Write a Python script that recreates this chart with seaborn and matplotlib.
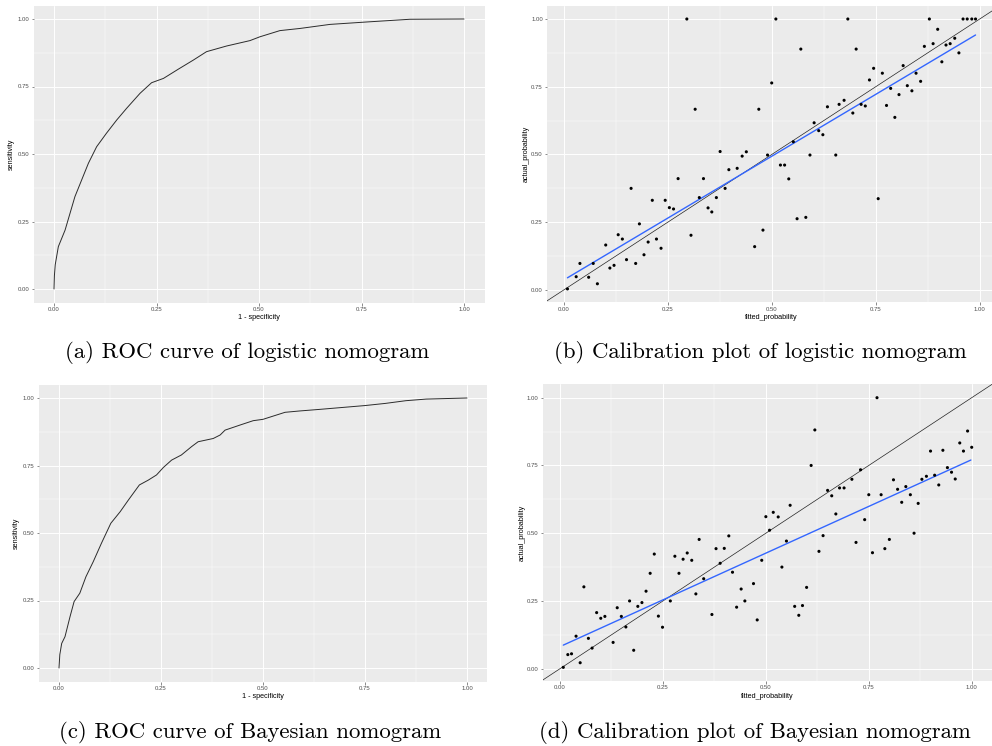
import numpy as np
import pandas as pd
import matplotlib
matplotlib.use("Agg")
import matplotlib.pyplot as plt
from matplotlib.ticker import MultipleLocator, FormatStrFormatter
import seaborn as sns

# ---------------- data ----------------
roc_log_fpr = [0, 0.001, 0.003, 0.0106, 0.027, 0.039, 0.051, 0.0675, 0.084, 0.104, 0.128, 0.153,
               0.177, 0.21, 0.238, 0.267, 0.303, 0.34, 0.372, 0.421, 0.478, 0.502, 0.551, 0.6,
               0.673, 0.763, 0.868, 1.0]
roc_log_tpr = [0, 0.05, 0.09, 0.157, 0.218, 0.28, 0.342, 0.404, 0.466, 0.527, 0.577, 0.626,
               0.669, 0.725, 0.764, 0.78, 0.814, 0.848, 0.879, 0.9, 0.92, 0.934, 0.957, 0.965,
               0.98, 0.989, 0.999, 1.0]

roc_bay_fpr = [0, 0.002, 0.0066, 0.0147, 0.027, 0.037, 0.051, 0.066, 0.084, 0.104, 0.127, 0.15,
               0.17, 0.197, 0.219, 0.239, 0.256, 0.276, 0.3, 0.325, 0.341, 0.378, 0.395, 0.407,
               0.444, 0.476, 0.5, 0.554, 0.59, 0.64, 0.75, 0.8, 0.85, 0.9, 1.0]
roc_bay_tpr = [0, 0.05, 0.091, 0.116, 0.19, 0.246, 0.277, 0.338, 0.394, 0.462, 0.536, 0.579,
               0.622, 0.678, 0.696, 0.715, 0.743, 0.77, 0.789, 0.82, 0.838, 0.85, 0.863, 0.881,
               0.9, 0.916, 0.921, 0.947, 0.952, 0.958, 0.972, 0.98, 0.99, 0.996, 1.0]

cal_log_fitted = [0.009, 0.030, 0.039, 0.060, 0.071, 0.081, 0.101, 0.111, 0.121, 0.131, 0.141,
                  0.151, 0.162, 0.173, 0.182, 0.193, 0.203, 0.213, 0.223, 0.234, 0.244, 0.254,
                  0.264, 0.275, 0.296, 0.306, 0.316, 0.326, 0.336, 0.347, 0.356, 0.367, 0.376,
                  0.388, 0.397, 0.417, 0.429, 0.439, 0.459, 0.469, 0.479, 0.490, 0.500, 0.510,
                  0.521, 0.531, 0.541, 0.552, 0.561, 0.570, 0.582, 0.592, 0.602, 0.613, 0.623,
                  0.634, 0.654, 0.662, 0.674, 0.683, 0.695, 0.703, 0.715, 0.725, 0.735, 0.745,
                  0.756, 0.766, 0.776, 0.786, 0.796, 0.806, 0.816, 0.826, 0.837, 0.847, 0.858,
                  0.867, 0.879, 0.888, 0.899, 0.909, 0.919, 0.929, 0.940, 0.950, 0.960, 0.970,
                  0.981, 0.990]
cal_log_actual = [0.004, 0.049, 0.098, 0.047, 0.098, 0.023, 0.166, 0.081, 0.091, 0.204, 0.188,
                  0.112, 0.375, 0.098, 0.244, 0.130, 0.177, 0.331, 0.188, 0.154, 0.331, 0.304,
                  0.299, 0.411, 1.000, 0.202, 0.667, 0.341, 0.411, 0.303, 0.288, 0.341, 0.511,
                  0.375, 0.444, 0.449, 0.494, 0.510, 0.160, 0.667, 0.221, 0.498, 0.764, 1.000,
                  0.461, 0.461, 0.410, 0.547, 0.263, 0.889, 0.268, 0.498, 0.617, 0.588, 0.573,
                  0.676, 0.498, 0.685, 0.700, 1.000, 0.653, 0.889, 0.685, 0.679, 0.775, 0.818,
                  0.337, 0.800, 0.681, 0.744, 0.637, 0.721, 0.828, 0.754, 0.735, 0.800, 0.770,
                  0.899, 1.000, 0.909, 0.962, 0.842, 0.904, 0.909, 0.929, 0.875, 1.000, 1.000,
                  1.000, 1.000]
# fitted smooth (lm) line of panel b
smooth_log_x = [0.009, 0.990]
smooth_log_y = [0.045, 0.941]

cal_bay_fitted = [0.008, 0.019, 0.028, 0.039, 0.049, 0.058, 0.069, 0.078, 0.089, 0.099, 0.109,
                  0.129, 0.139, 0.149, 0.160, 0.169, 0.179, 0.189, 0.199, 0.209, 0.219, 0.229,
                  0.239, 0.249, 0.268, 0.279, 0.289, 0.299, 0.309, 0.320, 0.330, 0.338, 0.349,
                  0.369, 0.379, 0.389, 0.399, 0.410, 0.419, 0.429, 0.440, 0.449, 0.470, 0.479,
                  0.490, 0.500, 0.509, 0.518, 0.530, 0.539, 0.550, 0.559, 0.570, 0.580, 0.589,
                  0.599, 0.610, 0.619, 0.629, 0.639, 0.650, 0.660, 0.670, 0.679, 0.690, 0.709,
                  0.719, 0.730, 0.740, 0.750, 0.759, 0.770, 0.780, 0.789, 0.800, 0.810, 0.820,
                  0.830, 0.840, 0.851, 0.860, 0.870, 0.879, 0.890, 0.900, 0.910, 0.920, 0.930,
                  0.941, 0.951, 0.960, 0.971, 0.980, 0.990, 1.000]
cal_bay_actual = [0.005, 0.052, 0.055, 0.120, 0.022, 0.302, 0.112, 0.076, 0.207, 0.186, 0.193,
                  0.097, 0.225, 0.193, 0.154, 0.250, 0.068, 0.230, 0.244, 0.286, 0.352, 0.423,
                  0.194, 0.153, 0.250, 0.415, 0.352, 0.404, 0.427, 0.400, 0.276, 0.477, 0.332,
                  0.200, 0.443, 0.389, 0.444, 0.490, 0.356, 0.227, 0.294, 0.250, 0.314, 0.180,
                  0.400, 0.561, 0.511, 0.577, 0.560, 0.375, 0.471, 0.603, 0.230, 0.197, 0.233,
                  0.300, 0.750, 0.881, 0.433, 0.491, 0.658, 0.638, 0.571, 0.667, 0.667, 0.699,
                  0.466, 0.734, 0.550, 0.642, 0.428, 1.000, 0.642, 0.443, 0.477, 0.697, 0.662,
                  0.614, 0.672, 0.642, 0.500, 0.610, 0.699, 0.710, 0.803, 0.714, 0.678, 0.806,
                  0.742, 0.725, 0.700, 0.833, 0.803, 0.877, 0.817]
# fitted smooth (lm) line of panel d
smooth_bay_x = [0.008, 0.998]
smooth_bay_y = [0.087, 0.770]

tick_vals = [0.0, 0.25, 0.5, 0.75, 1.0]
captions = ["(a) ROC curve of logistic nomogram",
            "(b) Calibration plot of logistic nomogram",
            "(c) ROC curve of Bayesian nomogram",
            "(d) Calibration plot of Bayesian nomogram"]

# ---------------- style ----------------
sns.set_theme(style="darkgrid", rc={
    "axes.facecolor": "#EBEBEB",
    "grid.color": "white",
    "figure.facecolor": "white",
})
plt.rcParams["font.family"] = ["Liberation Sans", "DejaVu Sans"]

W, H = 992, 746
fig = plt.figure(figsize=(W / 100, H / 100), dpi=100)


def expand(vals):
    lo, hi = min(vals), max(vals)
    r = hi - lo
    return (lo - 0.05 * r, hi + 0.05 * r)


def make_axes(x0px, xs, y0px, ys, xlim, ylim):
    left = x0px + xlim[0] * xs
    right = x0px + xlim[1] * xs
    top = y0px - ylim[1] * ys
    bottom = y0px - ylim[0] * ys
    ax = fig.add_axes([left / W, 1 - bottom / H, (right - left) / W, (bottom - top) / H])
    ax.set_xlim(*xlim)
    ax.set_ylim(*ylim)
    return ax


def style(ax, xlabel, ylabel, xlim, ylim):
    ax.set_xlim(*xlim)
    ax.set_ylim(*ylim)
    ax.set_xticks(tick_vals)
    ax.set_yticks(tick_vals)
    ax.xaxis.set_major_formatter(FormatStrFormatter("%.2f"))
    ax.yaxis.set_major_formatter(FormatStrFormatter("%.2f"))
    ax.xaxis.set_minor_locator(MultipleLocator(0.125))
    ax.yaxis.set_minor_locator(MultipleLocator(0.125))
    ax.grid(which="major", color="white", linewidth=0.7)
    ax.grid(which="minor", color="white", linewidth=0.35)
    ax.set_axisbelow(True)
    for s in ax.spines.values():
        s.set_visible(False)
    ax.tick_params(which="major", length=1.8, width=0.4, color="#333333", pad=1.2,
                   labelsize=4.3, labelcolor="#4D4D4D", bottom=True, left=True)
    ax.tick_params(which="minor", length=0)
    ax.set_xlabel(xlabel, fontsize=5.2, color="black", labelpad=2)
    ax.set_ylabel(ylabel, fontsize=5.2, color="black", labelpad=2)


def roc(x0px, xs, y0px, ys, fpr, tpr):
    df = pd.DataFrame({"fpr": fpr, "tpr": tpr})
    xlim, ylim = expand(fpr), expand(tpr)
    ax = make_axes(x0px, xs, y0px, ys, xlim, ylim)
    sns.lineplot(data=df, x="fpr", y="tpr", sort=False, estimator=None, color="#2b2b2b",
                 linewidth=0.7, ax=ax)
    style(ax, "1 - specificity", "sensitivity", xlim, ylim)
    return ax


def calib(x0px, xs, y0px, ys, fitted, actual, sx, sy):
    df = pd.DataFrame({"fitted_probability": fitted, "actual_probability": actual})
    sm = pd.DataFrame({"x": sx, "y": sy})
    xlim, ylim = expand(fitted), expand(actual)
    ax = make_axes(x0px, xs, y0px, ys, xlim, ylim)
    ax.axline((0, 0), slope=1, color="#222222", linewidth=0.5, zorder=2)
    sns.lineplot(data=sm, x="x", y="y", color="#3366FF", linewidth=1.0, ax=ax, zorder=3)
    sns.scatterplot(data=df, x="fitted_probability", y="actual_probability", color="black",
                    s=5, edgecolor="none", ax=ax, zorder=4)
    style(ax, "fitted_probability", "actual_probability", xlim, ylim)
    ax.yaxis.labelpad = 1
    return ax


roc(54, 410, 289, 270, roc_log_fpr, roc_log_tpr)
roc(59, 408, 668, 270, roc_bay_fpr, roc_bay_tpr)
calib(563.7, 416, 290, 271, cal_log_fitted, cal_log_actual, smooth_log_x, smooth_log_y)
calib(560, 411.7, 668.7, 271, cal_bay_fitted, cal_bay_actual, smooth_bay_x, smooth_bay_y)

# captions
cap_pos = [(247, 353), (760, 353), (250, 733), (755, 733)]
for txt, (cx, cy) in zip(captions, cap_pos):
    fig.text(cx / W, 1 - cy / H, txt, ha="center", va="center", fontsize=16.4,
             family=["cmr10", "DejaVu Serif"], color="black")

fig.savefig("out.png", dpi=100)
